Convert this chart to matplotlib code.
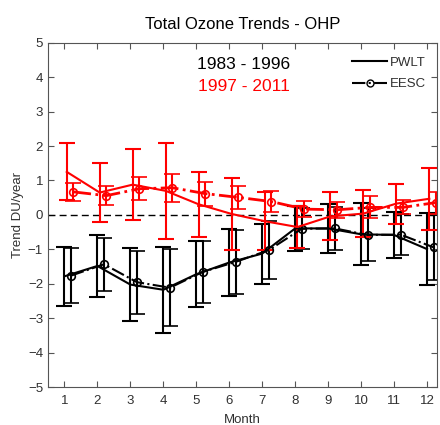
import numpy as np
import matplotlib
matplotlib.use('Agg')
from matplotlib import pyplot as plt
from matplotlib.lines import Line2D

plt.rcParams['font.family'] = ['Liberation Sans', 'DejaVu Sans']

#--------------------------------
# DATA
#--------------------------------
months = np.arange(1, 13)

# 1983 - 1996
pwlt_old = [-1.78, -1.48, -2.02, -2.17, -1.72, -1.38, -1.12, -0.39, -0.39, -0.56, -0.58, -0.99]
pwlt_old_err = [0.85, 0.9, 1.05, 1.25, 0.96, 0.97, 0.87, 0.65, 0.7, 0.9, 0.68, 1.04]
eesc_old = [-1.76, -1.43, -1.95, -2.11, -1.65, -1.36, -1.02, -0.40, -0.39, -0.58, -0.57, -0.94]
eesc_old_err = [0.8, 0.77, 0.91, 1.11, 0.9, 0.93, 0.85, 0.59, 0.63, 0.77, 0.59, 0.94]

# 1997 - 2011
pwlt_new = [1.25, 0.65, 0.88, 0.70, 0.31, 0.03, -0.18, -0.35, -0.04, 0.04, 0.33, 0.47]
pwlt_new_err = [0.83, 0.86, 1.02, 1.39, 0.95, 1.05, 0.84, 0.62, 0.7, 0.67, 0.58, 0.9]
eesc_new = [0.67, 0.56, 0.76, 0.79, 0.62, 0.51, 0.39, 0.17, 0.15, 0.22, 0.22, 0.36]
eesc_new_err = [0.27, 0.28, 0.33, 0.4, 0.35, 0.33, 0.3, 0.24, 0.24, 0.32, 0.2, 0.32]

#--------------------------------
# PLOT
#--------------------------------
fig = plt.figure(figsize=(4.4, 4.25), dpi=100)
ax = fig.add_axes([0.109, 0.0887, 0.884, 0.811])

ax.axhline(0, color='black', linestyle='--', lw=1, dashes=(5, 3))

# black: 1983-1996
ax.errorbar(months, pwlt_old, yerr=pwlt_old_err, color='black', lw=1.5,
            elinewidth=1.5, capsize=6, capthick=1.5, linestyle='-')
ax.errorbar(months + 0.2, eesc_old, yerr=eesc_old_err, color='black', lw=1.5,
            elinewidth=1.5, capsize=6, capthick=1.5, linestyle='-.',
            marker='o', markersize=5.5, markerfacecolor='none', markeredgewidth=1.2)

# red: 1997-2011
ax.errorbar(months + 0.07, pwlt_new, yerr=pwlt_new_err, color='red', lw=1.5,
            elinewidth=1.5, capsize=6, capthick=1.5, linestyle='-')
ax.errorbar(months + 0.27, eesc_new, yerr=eesc_new_err, color='red', lw=2,
            elinewidth=1.5, capsize=6, capthick=1.5, linestyle='-.',
            marker='o', markersize=5.5, markerfacecolor='none', markeredgewidth=1.2)

ax.set_xlim(0.5, 12.3)
ax.set_ylim(-5, 5)
ax.set_xticks(months)
ax.set_yticks(np.arange(-5, 6))
for s in ax.spines.values():
    s.set_color('#555555')
ax.tick_params(direction='in', top=True, right=True, labelsize=9.5, length=4,
               color='#555555', labelcolor='#303030')
ax.tick_params(axis='x', pad=5.5)
ax.set_xlabel('Month', fontsize=9.5, color='#303030', labelpad=5)
ax.set_ylabel('Trend DU/year', fontsize=9.5, color='#303030', labelpad=3)
ax.set_title('Total Ozone Trends - OHP', fontsize=12, pad=10)

ax.text(0.503, 0.936, '1983 - 1996', transform=ax.transAxes, fontsize=12.5,
        color='black', ha='center', va='center')
ax.text(0.503, 0.872, '1997 - 2011', transform=ax.transAxes, fontsize=12.5,
        color='red', ha='center', va='center')

handles = [Line2D([], [], color='black', lw=1.5, linestyle='-'),
           Line2D([], [], color='black', lw=1.5, linestyle='-.', marker='o',
                  markersize=5, markerfacecolor='none')]
leg = ax.legend(handles, ['PWLT', 'EESC'], loc='upper left', bbox_to_anchor=(0.781, 0.96),
                frameon=False, fontsize=9.5, handlelength=2.7, handletextpad=0.2,
                labelspacing=0.7, borderaxespad=0, borderpad=0)
for t in leg.get_texts():
    t.set_color('#303030')

plt.savefig('out.png', dpi=100)
